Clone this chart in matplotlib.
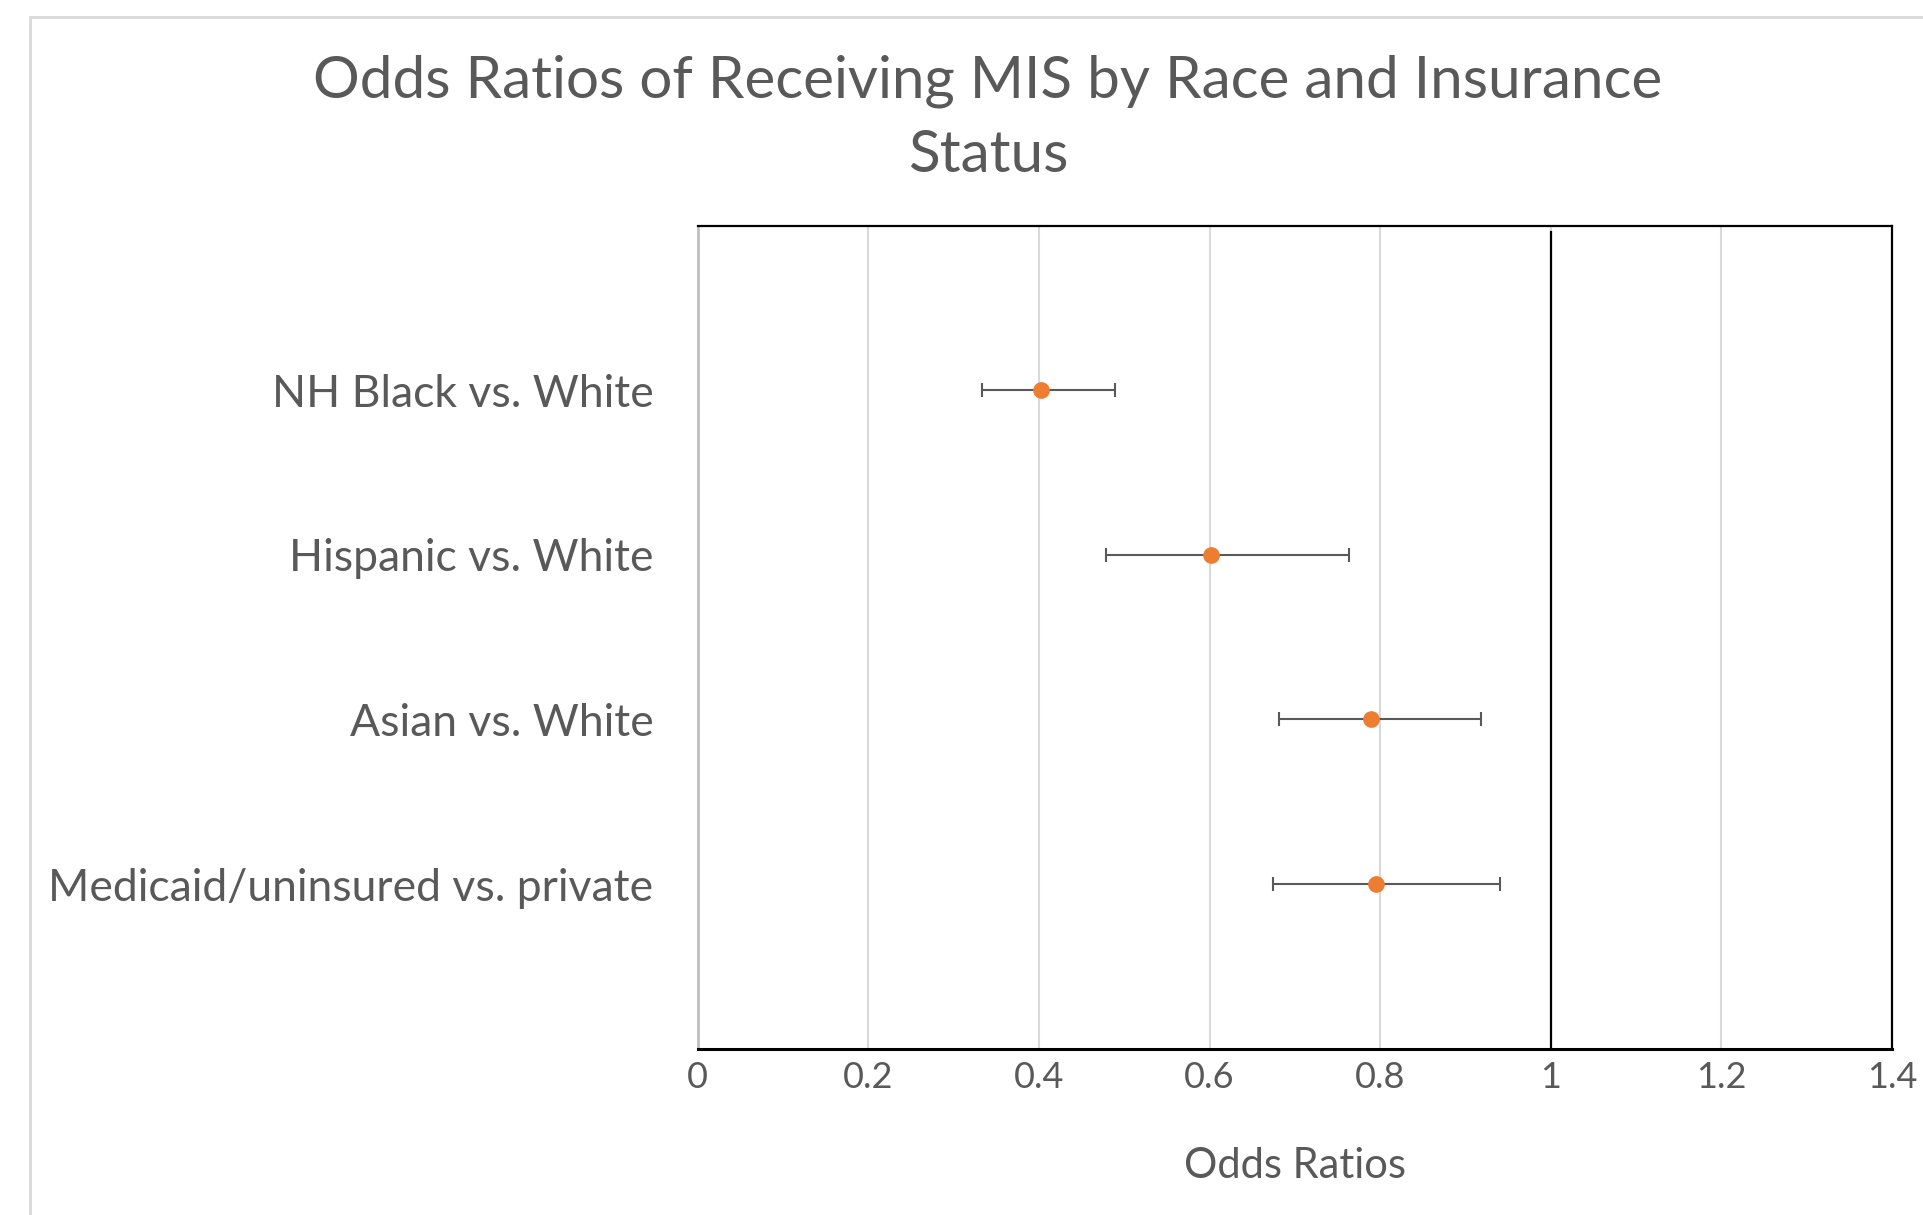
import numpy as np
import matplotlib.pyplot as plt
from matplotlib.patches import Rectangle

# data
categories = ['NH Black vs. White', 'Hispanic vs. White', 'Asian vs. White', 'Medicaid/uninsured vs. private']
odds = [0.402, 0.602, 0.789, 0.795]
ci_low = [0.333, 0.479, 0.681, 0.674]
ci_high = [0.489, 0.763, 0.918, 0.941]
ypos = [4, 3, 2, 1]
xticks = [0, 0.2, 0.4, 0.6, 0.8, 1, 1.2, 1.4]
xtick_labels = ['0', '0.2', '0.4', '0.6', '0.8', '1', '1.2', '1.4']
ref_line = 1.0

plt.rcParams['font.family'] = ['Lato', 'DejaVu Sans']
txt = '#595959'

W, H = 1923, 1215
fig = plt.figure(figsize=(W / 100, H / 100), dpi=100)

# chart area border (runs off the right/bottom edge)
fig.patches.append(Rectangle((30 / W, -0.05), 1.2, (H - 17) / H + 0.05,
                             transform=fig.transFigure, fill=False,
                             edgecolor='#d9d9d9', linewidth=2))

ax = fig.add_axes([697.8 / W, 166.4 / H, (1892 - 697.8) / W, (1048.6 - 225.7) / H])

odds = np.array(odds)
err = [odds - np.array(ci_low), np.array(ci_high) - odds]
ax.errorbar(odds, ypos, xerr=err, fmt='none', ecolor='#595959', elinewidth=1.5,
            capsize=4.7, capthick=1.5, zorder=3)
ax.plot(odds, ypos, 'o', color='#ED7D31', markersize=11, zorder=4)

ax.axvline(ref_line, ymin=0, ymax=0.992, color='black', linewidth=1.6, zorder=2)

ax.set_xlim(0, 1.4)
ax.set_ylim(0, 5)
ax.set_xticks(xticks)
ax.set_xticklabels(xtick_labels)
ax.set_yticks(ypos)
ax.set_yticklabels(categories)
ax.tick_params(axis='both', length=0, labelcolor=txt)
ax.tick_params(axis='x', labelsize=26, pad=9)
ax.tick_params(axis='y', labelsize=32, pad=32)
ax.grid(axis='x', color='#d9d9d9', linewidth=1.5, zorder=0)
ax.set_axisbelow(True)

for s in ['top', 'right']:
    ax.spines[s].set_color('black')
    ax.spines[s].set_linewidth(1.6)
ax.spines['bottom'].set_color('black')
ax.spines['bottom'].set_linewidth(2.2)
ax.spines['left'].set_color('#bfbfbf')
ax.spines['left'].set_linewidth(2)

ax.set_xlabel('Odds Ratios', fontsize=30, color=txt)
ax.xaxis.label.set_va('center')
ax.xaxis.set_label_coords(0.5, (1048.6 - 1166) / (1048.6 - 225.7))

fig.text(988 / W, 1 - 81 / H, 'Odds Ratios of Receiving MIS by Race and Insurance',
         ha='center', va='center', fontsize=42, color=txt)
fig.text(988 / W, 1 - 156 / H, 'Status', ha='center', va='center', fontsize=42, color=txt)

fig.savefig('out.png', dpi=100)
